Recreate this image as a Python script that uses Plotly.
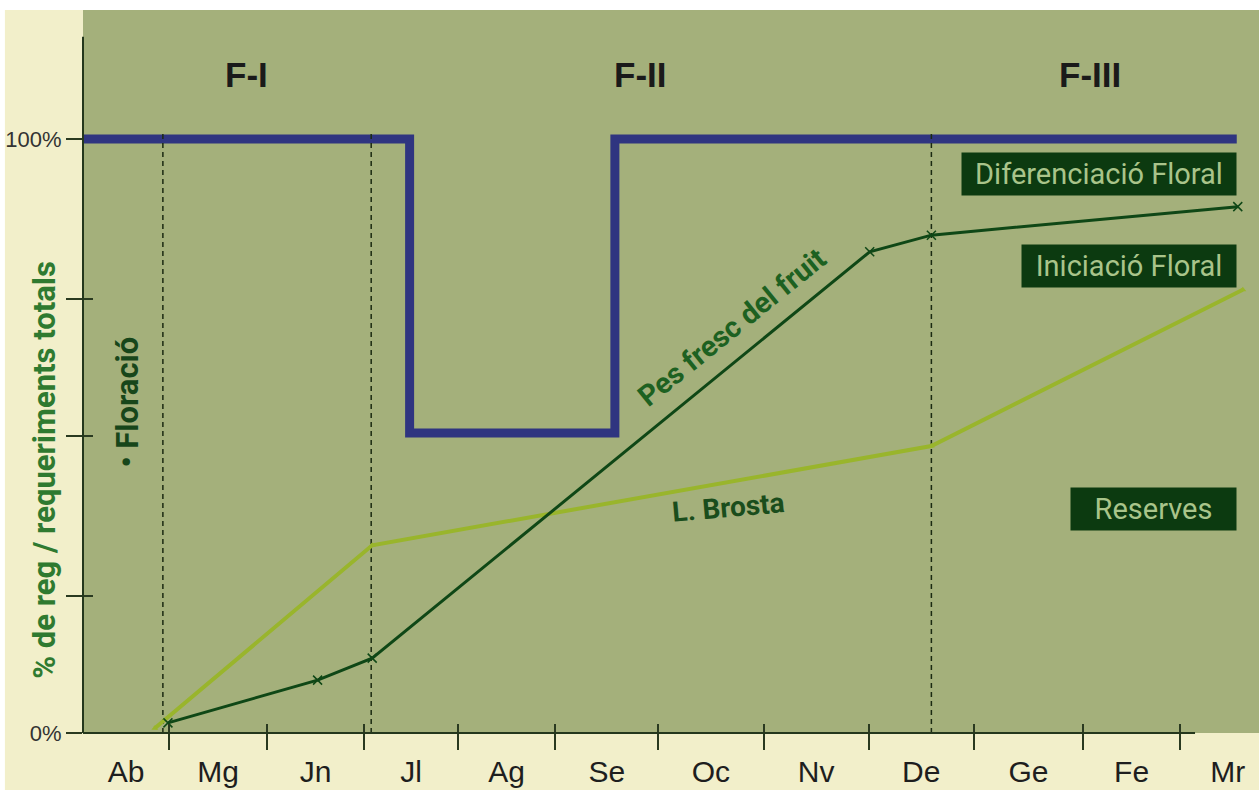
import plotly.graph_objects as go

# ---------------- data ----------------
months = ["Ab", "Mg", "Jn", "Jl", "Ag", "Se", "Oc", "Nv", "De", "Ge", "Fe", "Mr"]
# month boundaries on the x axis (month units, Ab starts at 0)
month_edges = [0.15, 1.0, 1.97, 2.93, 3.86, 4.82, 5.84, 6.88, 7.92, 8.96, 10.04, 11.0, 11.94]

y_ticks = [0, 23, 50, 73, 100]
y_ticktext = ["0%", "", "", "", "100%"]

# phase boundaries (dashed verticals) and phase labels
phase_bounds = [0.94, 3.0, 8.54]
phase_names = ["F-I", "F-II", "F-III"]
phase_label_x = [1.77, 5.66, 10.11]

# irrigation share (blue step line)
reg_x = [0.15, 3.38, 3.38, 5.41, 5.41, 11.56]
reg_y = [100, 100, 50.5, 50.5, 100, 100]

# fruit fresh weight
fruit_x = [0.99, 2.47, 3.01, 7.93, 8.54, 11.57]
fruit_y = [1.7, 8.9, 12.6, 81.0, 83.8, 88.6]

# shoot growth (L. Brosta)
brosta_x = [0.86, 3.01, 8.54, 11.62]
brosta_y = [0.8, 31.6, 48.3, 74.6]

legend_boxes = ["Diferenciació Floral", "Iniciació Floral", "Reserves"]

# ---------------- styles ----------------
CREAM = "#f2efca"
GREEN_BG = "#a4b07b"
NAVY = "#2f3580"
DARK = "#0f4716"
LIME = "#99b52c"
BOX = "#0c3a10"
BOXTXT = "#a9c48a"
NARROW = "Liberation Sans Narrow, Arial Narrow, Roboto, sans-serif"
SANS = "Liberation Sans, Arial, sans-serif"

X_RANGE = [0.15, 11.78]
Y_RANGE = [0, 121.7]

fig = go.Figure()

# blue step line
fig.add_trace(go.Scatter(x=reg_x, y=reg_y, mode="lines",
                         line=dict(color=NAVY, width=9), hoverinfo="skip"))

# dashed phase boundaries
for xb in phase_bounds:
    fig.add_trace(go.Scatter(x=[xb, xb], y=[0, 101.5], mode="lines",
                             line=dict(color="#1b2a12", width=1.5, dash="5px,4px"),
                             hoverinfo="skip"))

# L. Brosta
fig.add_trace(go.Scatter(x=brosta_x, y=brosta_y, mode="lines+markers",
                         line=dict(color=LIME, width=4),
                         marker=dict(symbol="triangle-up", size=6, color=LIME),
                         hoverinfo="skip"))

# Pes fresc del fruit
fig.add_trace(go.Scatter(x=fruit_x, y=fruit_y, mode="lines+markers",
                         line=dict(color=DARK, width=3),
                         marker=dict(symbol="x-thin", size=9,
                                     line=dict(color=DARK, width=1.5)),
                         hoverinfo="skip"))

# overlay helper traces for crossing ticks
fig.add_trace(go.Scatter(x=[X_RANGE[0]], y=[0], xaxis="x2", yaxis="y",
                         mode="markers", marker=dict(opacity=0), hoverinfo="skip"))
fig.add_trace(go.Scatter(x=[X_RANGE[0]], y=[0], xaxis="x", yaxis="y2",
                         mode="markers", marker=dict(opacity=0), hoverinfo="skip"))

centers = [(month_edges[i] + month_edges[i + 1]) / 2 for i in range(len(months))]
inner_edges = month_edges[1:-1]

fig.update_layout(
    width=1259, height=797,
    margin=dict(l=83, r=0, t=10, b=64),
    paper_bgcolor=CREAM, plot_bgcolor=GREEN_BG,
    showlegend=False,
    xaxis=dict(range=X_RANGE, showgrid=False, zeroline=False, showline=False,
               tickmode="array", tickvals=centers, ticktext=months, ticks="",
               ticklabelstandoff=18,
               tickfont=dict(family=SANS, size=30, color="#1e1e1e"),
               minor=dict(tickmode="array", tickvals=inner_edges, ticks="outside",
                          ticklen=16, tickwidth=1.5, tickcolor="#2a3a20")),
    xaxis2=dict(range=X_RANGE, overlaying="x", showgrid=False, zeroline=False,
                showline=False, showticklabels=False, tickmode="array", tickvals=[],
                minor=dict(tickmode="array", tickvals=inner_edges, ticks="inside",
                           ticklen=9, tickwidth=1.5, tickcolor="#2a3a20")),
    yaxis=dict(range=Y_RANGE, showgrid=False, zeroline=False, showline=False,
               tickmode="array", tickvals=y_ticks, ticktext=y_ticktext,
               ticks="outside", ticklen=16, tickwidth=1.5, tickcolor="#2a3a20",
               tickfont=dict(family=SANS, size=22, color="#333333")),
    yaxis2=dict(range=Y_RANGE, overlaying="y", showgrid=False, zeroline=False,
                showline=False, showticklabels=False, tickmode="array",
                tickvals=y_ticks[1:4], ticks="inside", ticklen=10, tickwidth=1.5,
                tickcolor="#2a3a20"),
)

shapes = [
    # axis lines
    dict(type="line", xref="paper", yref="paper", x0=0, x1=0.9456, y0=0, y1=0,
         line=dict(color="#24371c", width=2)),
    dict(type="line", xref="paper", yref="paper", x0=0, x1=0, y0=0, y1=0.963,
         line=dict(color="#24371c", width=2)),
    # white frame strips
    dict(type="rect", xref="paper", yref="paper", x0=-0.0706, x1=1.0, y0=1.0, y1=1.0139,
         line=dict(width=0), fillcolor="white"),
    dict(type="rect", xref="paper", yref="paper", x0=-0.0706, x1=-0.0664, y0=-0.0886, y1=1.0139,
         line=dict(width=0), fillcolor="white"),
    dict(type="rect", xref="paper", yref="paper", x0=-0.0706, x1=1.0, y0=-0.0886, y1=-0.0790,
         line=dict(width=0), fillcolor="white"),
]
fig.update_layout(shapes=shapes)

ann = []
for name, px in zip(phase_names, phase_label_x):
    ann.append(dict(x=px, y=110.8, xref="x", yref="y", text="<b>%s</b>" % name,
                    xanchor="center", showarrow=False,
                    font=dict(family=SANS, size=35, color="#1a1a1a")))

ann.append(dict(x=-0.0323, y=0.364, xref="paper", yref="paper", textangle=-90,
                xanchor="center", yanchor="middle",
                text="<b>% de reg / requeriments totals</b>", showarrow=False,
                font=dict(family=NARROW, size=31, color="#2f7a30")))

ann.append(dict(x=0.59, y=55.7, xref="x", yref="y", textangle=-90,
                xanchor="center", yanchor="middle",
                text="<b>• Floració</b>", showarrow=False,
                font=dict(family=NARROW, size=31, color="#17461a")))

ann.append(dict(x=6.57, y=68.35, xref="x", yref="y", textangle=-39,
                text="<b>Pes fresc del fruit</b>", showarrow=False,
                font=dict(family=NARROW, size=29, color="#1d6121")))

ann.append(dict(x=6.53, y=38.0, xref="x", yref="y", textangle=-5,
                text="<b>L. Brosta</b>", showarrow=False,
                font=dict(family=NARROW, size=28, color="#1a4d1c")))

box_y = [0.773, 0.646, 0.310]
box_w = [274, 214, 165]
for txt, by, bw in zip(legend_boxes, box_y, box_w):
    ann.append(dict(x=0.9813, y=by, xref="paper", yref="paper", xanchor="right",
                    yanchor="middle", text=txt, showarrow=False,
                    width=bw, height=42, borderpad=0, bgcolor=BOX, align="center",
                    valign="middle",
                    font=dict(family=NARROW, size=29, color=BOXTXT)))

fig.update_layout(annotations=ann)

fig.write_html("out.html", config={"displayModeBar": False},
               post_script="document.body.style.margin='0';document.body.style.padding='0';")
